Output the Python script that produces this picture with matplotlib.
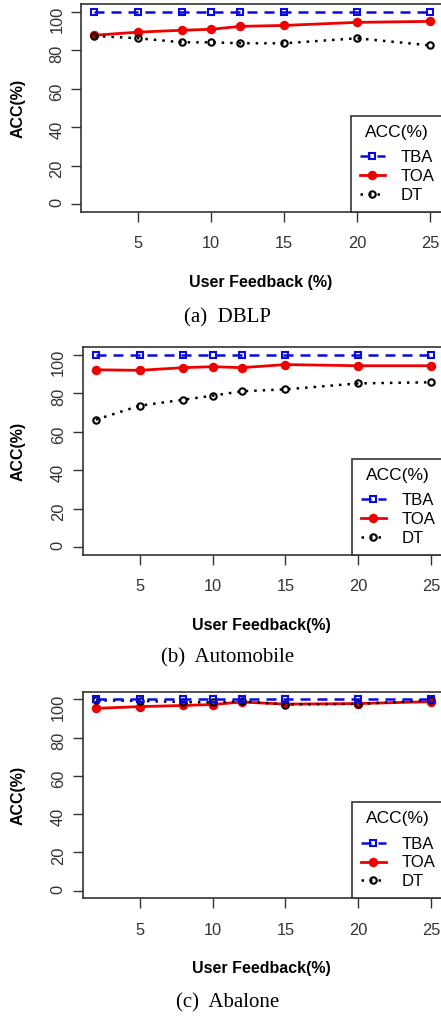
import matplotlib
matplotlib.use("Agg")
import matplotlib.pyplot as plt

plt.rcParams['font.family'] = ['Liberation Sans', 'DejaVu Sans']

# user feedback percentages (x axis)
feedback = [2, 5, 8, 10, 12, 15, 20, 25]
xticks = [5, 10, 15, 20, 25]
yticks = [0, 20, 40, 60, 80, 100]

# DBLP
dblp_tba = [100, 100, 100, 100, 100, 100, 100, 100]
dblp_toa = [87.9, 89.5, 90.5, 91.0, 92.5, 93.0, 94.6, 95.1]
dblp_dt = [87.5, 86.3, 84.2, 84.2, 83.7, 83.7, 86.3, 82.6]

# Automobile
auto_tba = [100, 100, 100, 100, 100, 100, 100, 100]
auto_toa = [92.3, 92.0, 93.4, 93.9, 93.4, 95.0, 94.4, 94.4]
auto_dt = [66.3, 73.6, 76.7, 78.8, 81.1, 82.1, 85.2, 85.8]

# Abalone
abalone_tba = [100, 100, 100, 100, 100, 100, 100, 100]
abalone_toa = [95.3, 96.2, 96.8, 97.3, 98.6, 97.5, 97.8, 98.8]
abalone_dt = [99.5, 99.2, 98.6, 98.4, 99.0, 97.3, 97.6, 99.5]

panels = [
    (dblp_tba, dblp_toa, dblp_dt, 'User Feedback (%)', '(a)  DBLP'),
    (auto_tba, auto_toa, auto_dt, 'User Feedback(%)', '(b)  Automobile'),
    (abalone_tba, abalone_toa, abalone_dt, 'User Feedback(%)', '(c)  Abalone'),
]

W, H = 441, 1016
fig = plt.figure(figsize=(W / 100, H / 100), dpi=100)

# axes boxes in pixels: left, top, right, bottom
boxes = [(81, 4.3, 443.7, 211.7), (82.5, 347.3, 444.7, 554.7), (82.5, 691.7, 444.7, 898.3)]
caption_y = [318, 658, 1003]

BLUE = '#0a0ae0'
RED = '#ee0000'
EDGE = '#333333'

for (tba, toa, dt, xlabel, caption), (l, t, r, b), cy in zip(panels, boxes, caption_y):
    ax = fig.add_axes([l / W, 1 - b / H, (r - l) / W, (b - t) / H])

    ax.plot(feedback, toa, color=RED, lw=2.0, ls='-', marker='o', ms=5.8,
            mfc=RED, mec=RED, label='TOA', zorder=3)
    ax.plot(feedback, dt, color='black', lw=1.8, ls=(0, (1, 2.4)), marker='o', ms=4.6,
            mfc='none', mec='black', mew=1.5, label='DT', zorder=4)
    ax.plot(feedback, tba, color=BLUE, lw=1.8, ls=(0, (4, 2.8)), marker='s', ms=4.6,
            mfc='none', mec=BLUE, mew=1.5, label='TBA', zorder=5)

    ax.set_xlim(1.08, 25.92)
    ax.set_ylim(-4, 104)
    ax.set_xticks(xticks)
    ax.set_yticks(yticks)
    ax.tick_params(axis='both', direction='out', length=7, width=1.0, color=EDGE,
                   labelsize=11.8, labelcolor='#333333')
    ax.tick_params(axis='x', pad=10.5)
    ax.tick_params(axis='y', labelrotation=90, pad=5)
    for sp in ax.spines.values():
        sp.set_color(EDGE)
        sp.set_linewidth(1.2)

    ax.set_xlabel(xlabel, fontsize=11.5, fontweight='bold', va='center')
    ax.set_ylabel('ACC(%)', fontsize=11.5, fontweight='bold', va='center')
    ax.xaxis.set_label_coords((261 - l) / (r - l), -70.5 / (b - t))
    ax.yaxis.set_label_coords((18 - l) / (r - l), 0.5)

    handles, labels = ax.get_legend_handles_labels()
    order = [2, 0, 1]
    leg = ax.legend([handles[i] for i in order], [labels[i] for i in order],
                    title='ACC(%)', loc='lower right', bbox_to_anchor=(1, 0),
                    borderaxespad=0, fontsize=12, title_fontsize=12.5,
                    fancybox=False, edgecolor=EDGE, framealpha=1,
                    handlelength=1.5, handletextpad=0.95, labelspacing=0.22,
                    borderpad=0.55, numpoints=1)
    leg._legend_box.sep = 7.5
    leg.get_frame().set_linewidth(1.2)

    fig.text(228 / W, 1 - cy / H, caption, ha='center', va='center',
             fontsize=15, family=['Liberation Serif', 'DejaVu Serif'])

fig.savefig('out.png', dpi=100)
